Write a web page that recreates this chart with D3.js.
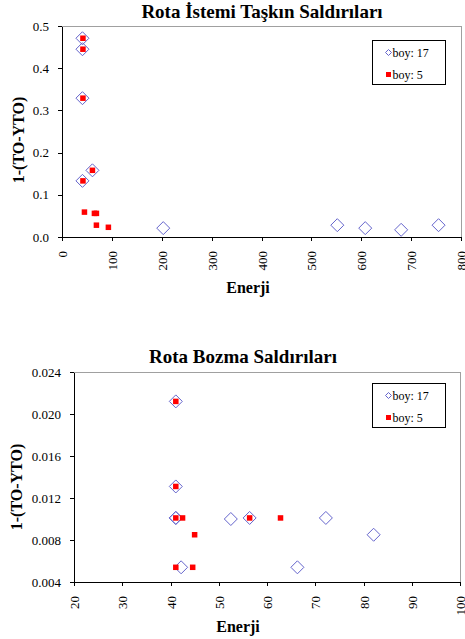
<!DOCTYPE html>
<html><head><meta charset="utf-8">
<script src="https://cdn.jsdelivr.net/npm/d3@7"></script>
<style>html,body{margin:0;padding:0;background:#fff;}svg{display:block;}</style>
</head><body>
<script>
// ---- Data ----
const seriesNames = ["boy: 17", "boy: 5"];

const topTitle = "Rota İstemi Taşkın Saldırıları";
const topXTicks = [0, 100, 200, 300, 400, 500, 600, 700, 800];
const topYTicks = [0.0, 0.1, 0.2, 0.3, 0.4, 0.5];
const topDiamondX = [41, 41, 41, 61, 41, 203, 552, 608, 680, 755];
const topDiamondY = [0.471, 0.445, 0.329, 0.158, 0.133, 0.021, 0.028, 0.021, 0.017, 0.028];
const topSquareX = [42, 42, 42, 61, 42, 45, 65, 69, 69, 93];
const topSquareY = [0.471, 0.445, 0.329, 0.158, 0.133, 0.059, 0.056, 0.056, 0.028, 0.023];

const bottomTitle = "Rota Bozma Saldırıları";
const bottomXTicks = [20, 30, 40, 50, 60, 70, 80, 90, 100];
const bottomYTicks = [0.004, 0.008, 0.012, 0.016, 0.020, 0.024];
const bottomDiamondX = [41.1, 41.1, 41.1, 41.1, 42.2, 52.5, 56.4, 66.3, 72.2, 82.1];
const bottomDiamondY = [0.0212, 0.0131, 0.0101, 0.0101, 0.0054, 0.0100, 0.0101, 0.0054, 0.0101, 0.0085];
const bottomSquareX = [41.1, 41.1, 41.1, 42.5, 45.0, 41.1, 44.6, 56.4, 62.8];
const bottomSquareY = [0.0212, 0.0131, 0.0101, 0.0101, 0.0085, 0.0054, 0.0054, 0.0101, 0.0101];

const xLabel = "Enerji";
const yLabel = "1-(TO-YTO)";

// ---- Drawing ----
const W = 465, H = 639;
const FONT = "serif";
const DCOL = "#6464cc", SCOL = "#ff0000";

const svg = d3.select("body").append("svg").attr("width", W).attr("height", H);

function diamondPath(s) { return `M0,${-s}L${s},0L0,${s}L${-s},0Z`; }

function drawChart(cfg) {
  const g = svg.append("g");
  const x = d3.scaleLinear().domain(cfg.xDomain).range([cfg.left, cfg.right]);
  const y = d3.scaleLinear().domain(cfg.yDomain).range([cfg.bottom, cfg.top]);

  // frame (top/right gray)
  g.append("path")
    .attr("d", `M${cfg.left},${cfg.top}H${cfg.right}V${cfg.bottom}`)
    .attr("fill", "none").attr("stroke", "#a0a0a0").attr("stroke-width", 1)
    .attr("shape-rendering", "crispEdges");

  // axes
  const xAxis = d3.axisBottom(x).tickValues(cfg.xTicks).tickSize(4).tickSizeOuter(0)
    .tickFormat(d3.format("d"));
  const gx = g.append("g").attr("transform", `translate(0,${cfg.bottom})`).call(xAxis);
  gx.attr("font-family", null).attr("font-size", null);
  gx.selectAll("text")
    .attr("y", null)
    .attr("transform", `translate(0,14) rotate(-90)`)
    .attr("text-anchor", "end")
    .attr("dy", "0.35em")
    .style("font-family", FONT).style("font-size", "13px").attr("fill", "#000");

  const yAxis = d3.axisLeft(y).tickValues(cfg.yTicks).tickSize(4).tickSizeOuter(0).tickPadding(9)
    .tickFormat(d3.format(cfg.yFmt));
  const gy = g.append("g").attr("transform", `translate(${cfg.left},0)`).call(yAxis);
  gy.attr("font-family", null).attr("font-size", null);
  gy.selectAll("text").style("font-family", FONT).style("font-size", "13px").attr("fill", "#000");
  [gx, gy].forEach(a => {
    a.selectAll("path,line").attr("stroke", "#000").attr("shape-rendering", "crispEdges");
  });

  // titles
  g.append("text").attr("x", cfg.titleX).attr("y", cfg.titleY).attr("text-anchor", "middle")
    .style("font-family", FONT).style("font-size", "19px").style("font-weight", "bold").text(cfg.title);
  g.append("text").attr("x", cfg.xlX).attr("y", cfg.xlY).attr("text-anchor", "middle")
    .style("font-family", FONT).style("font-size", "16px").style("font-weight", "bold").text(xLabel);
  g.append("text").attr("transform", `translate(${cfg.ylX},${cfg.ylY}) rotate(-90)`)
    .attr("text-anchor", "middle")
    .style("font-family", FONT).style("font-size", "16px").style("font-weight", "bold").text(yLabel);

  // diamonds
  g.append("g").selectAll("path").data(cfg.dX.map((v, i) => [v, cfg.dY[i]])).join("path")
    .attr("d", diamondPath(6.5))
    .attr("transform", d => `translate(${x(d[0])},${y(d[1])})`)
    .attr("fill", "none").attr("stroke", DCOL).attr("stroke-width", 1);
  // squares
  g.append("g").selectAll("rect").data(cfg.sX.map((v, i) => [v, cfg.sY[i]])).join("rect")
    .attr("x", d => x(d[0]) - 2.75).attr("y", d => y(d[1]) - 2.75)
    .attr("width", 5.5).attr("height", 5.5).attr("fill", SCOL);

  // legend
  const lg = g.append("g");
  lg.append("rect").attr("x", cfg.legX).attr("y", cfg.legY).attr("width", 73).attr("height", 44)
    .attr("fill", "#fff").attr("stroke", "#000").attr("stroke-width", 1).attr("shape-rendering", "crispEdges");
  lg.append("path").attr("d", diamondPath(3))
    .attr("transform", `translate(${cfg.legX + 16},${cfg.legY + 12})`)
    .attr("fill", "none").attr("stroke", DCOL);
  lg.append("rect").attr("x", cfg.legX + 16 - 2.5).attr("y", cfg.legY + 34 - 2.5)
    .attr("width", 5).attr("height", 5).attr("fill", SCOL);
  seriesNames.forEach((n, i) => {
    lg.append("text").attr("x", cfg.legX + 20).attr("y", cfg.legY + 16 + i * 22)
      .style("font-family", FONT).style("font-size", "12px").text(n);
  });
}

drawChart({
  title: topTitle, titleX: 262, titleY: 18,
  left: 62, right: 461, top: 26, bottom: 237,
  xDomain: [0, 800], yDomain: [0, 0.5],
  xTicks: topXTicks, yTicks: topYTicks, yFmt: ".1f",
  xlX: 248, xlY: 293, ylX: 24, ylY: 140,
  dX: topDiamondX, dY: topDiamondY, sX: topSquareX, sY: topSquareY,
  legX: 372.5, legY: 40.5
});

drawChart({
  title: bottomTitle, titleX: 243, titleY: 363,
  left: 74, right: 460, top: 372, bottom: 582,
  xDomain: [20, 100], yDomain: [0.004, 0.024],
  xTicks: bottomXTicks, yTicks: bottomYTicks, yFmt: ".3f",
  xlX: 238, xlY: 632, ylX: 22, ylY: 487,
  dX: bottomDiamondX, dY: bottomDiamondY, sX: bottomSquareX, sY: bottomSquareY,
  legX: 372.5, legY: 383.5
});
</script>
</body></html>
